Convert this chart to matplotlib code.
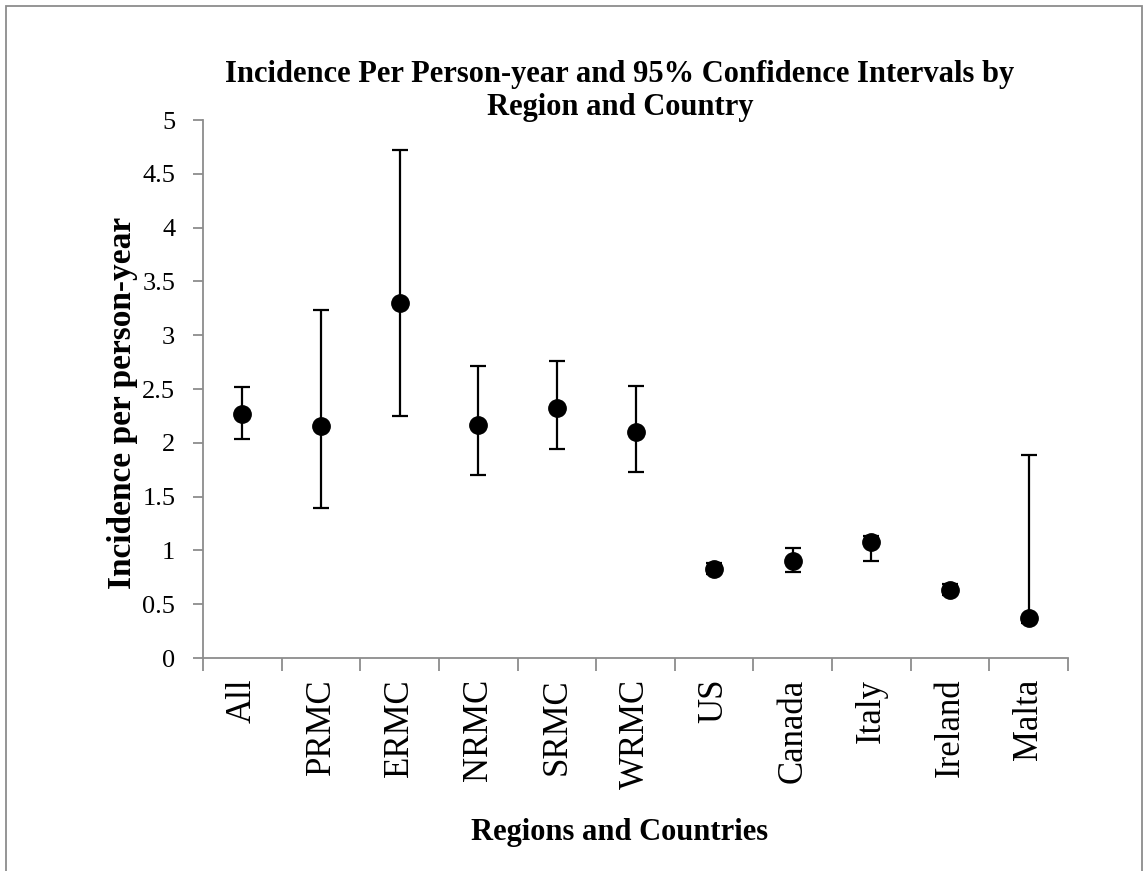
import numpy as np
import matplotlib.pyplot as plt
from matplotlib.patches import Rectangle

# incidence per person-year with 95% CI bounds
labels = ['All', 'PRMC', 'ERMC', 'NRMC', 'SRMC', 'WRMC',
          'US', 'Canada', 'Italy', 'Ireland', 'Malta']
incidence = [2.27, 2.16, 3.30, 2.17, 2.32, 2.10, 0.83, 0.90, 1.08, 0.63, 0.37]
ci_low = [2.04, 1.39, 2.25, 1.70, 1.94, 1.73, 0.78, 0.80, 0.90, 0.59, 0.33]
ci_high = [2.52, 3.23, 4.72, 2.71, 2.76, 2.53, 0.88, 1.02, 1.13, 0.69, 1.89]
yticks = [0, 0.5, 1, 1.5, 2, 2.5, 3, 3.5, 4, 4.5, 5]
ytick_labels = ['0', '0.5', '1', '1.5', '2', '2.5', '3', '3.5', '4', '4.5', '5']

plt.rcParams['font.family'] = ['Liberation Serif', 'DejaVu Serif']

fig = plt.figure(figsize=(11.45, 8.71), dpi=100)
ax = fig.add_axes([0.1773, 0.2445, 0.7555, 0.6177])

x = np.arange(len(labels)) + 0.5
inc = np.array(incidence)
err = [inc - np.array(ci_low), np.array(ci_high) - inc]
ax.errorbar(x, inc, yerr=err, fmt='o', color='black', ms=12.5,
            elinewidth=1.6, capsize=6, capthick=1.6, clip_on=False)

ax.set_xlim(0, len(labels))
ax.set_ylim(0, 5)
ax.set_yticks(yticks)
ax.set_yticklabels(ytick_labels)

# category labels centred, ticks between categories
ax.set_xticks(np.arange(len(labels) + 1))
ax.set_xticklabels([])
ax.set_xticks(x, minor=True)
ax.set_xticklabels(labels, minor=True, rotation=90, fontsize=25)
ax.tick_params(axis='x', which='minor', length=0, pad=15)
ax.tick_params(axis='x', which='major', length=9, width=1.3, color='#8c8c8c',
               direction='out')
ax.tick_params(axis='y', length=7, width=1.3, color='#8c8c8c', labelsize=19,
               pad=13)

for side in ['top', 'right']:
    ax.spines[side].set_visible(False)
for side in ['left', 'bottom']:
    ax.spines[side].set_color('#8c8c8c')
    ax.spines[side].set_linewidth(1.3)

fig.text(0.1066, 0.537, 'Incidence per person-year', rotation=90,
         ha='center', va='center', fontsize=24, fontweight='bold')
fig.text(0.5415, 0.044, 'Regions and Countries', ha='center', va='center',
         fontsize=22, fontweight='bold')
fig.text(0.5415, 0.895, 'Incidence Per Person-year and 95% Confidence Intervals by\nRegion and Country',
         ha='center', va='center', fontsize=22, fontweight='bold',
         linespacing=1.18)

# chart area border
fig.patches.append(Rectangle((6 / 1145, -0.05), 1136 / 1145, 1 - 6 / 871 + 0.05,
                             transform=fig.transFigure, fill=False,
                             edgecolor='#8c8c8c', linewidth=1.3))

fig.savefig('out.png', dpi=100)
